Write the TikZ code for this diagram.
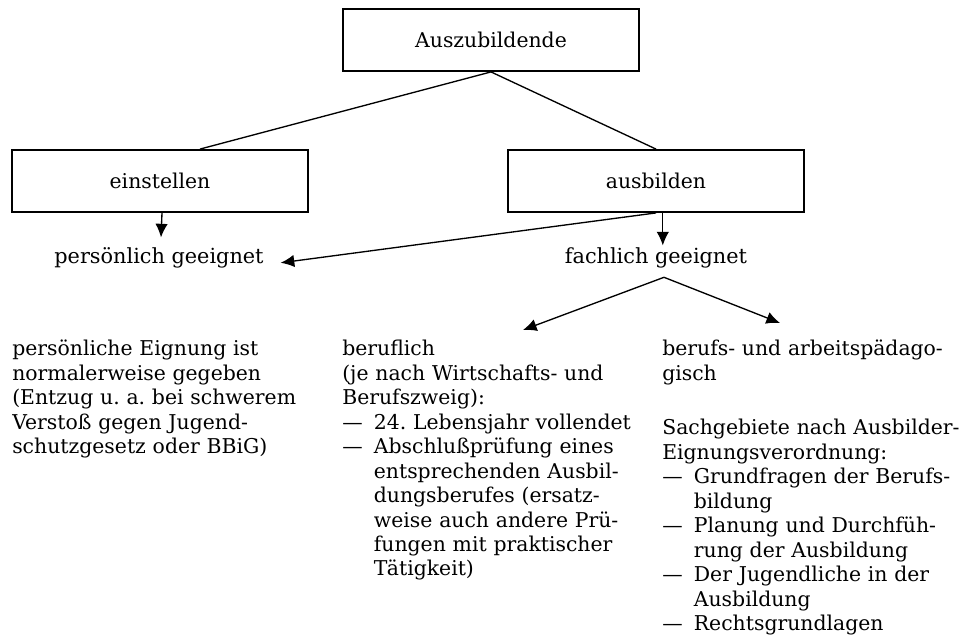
\documentclass[tikz,border=0pt]{standalone}
\usepackage{fontspec}
\setmainfont{DejaVu Serif}
\usetikzlibrary{arrows.meta,calc}
\frenchspacing

% Aufzaehlungspunkt mit Gedankenstrich und haengendem Einzug
\newcommand{\aufz}[1]{\par\hangindent=1.55em\hangafter=1\makebox[1.55em][l]{---}#1\par}

\begin{document}
\begin{tikzpicture}[
			x=0.025cm, y=-0.025cm,
			>={Latex[length=3.4mm,width=3.1mm]},
			kasten/.style={draw, line width=1.3pt, minimum width=7.4cm, minimum height=1.55cm,
				inner sep=0pt, font=\fontsize{14.5}{17}\selectfont},
			merkmal/.style={inner sep=0pt, font=\fontsize{14.8}{17}\selectfont},
			spalte/.style={anchor=north west, inner sep=0pt, text width=9cm, align=left,
				font=\fontsize{14.5}{17.4}\selectfont},
			verbindung/.style={line width=0.95pt}
			]
			\useasboundingbox (0,0) rectangle (968,637);
			
			\node[kasten] (azubi) at (491,40) {Auszubildende};
			\node[kasten] (einst) at (160,181) {einstellen};
			\node[kasten] (ausb) at (656,181) {ausbilden};
			
			\node[merkmal] (pers) at (159,258) {persönlich geeignet};
			\node[merkmal] (fach) at (656,258) {fachlich geeignet};
			
			\draw[verbindung] (azubi.south) -- ([xshift=1cm]einst.north);
			\draw[verbindung] (azubi.south) -- (ausb.north);
			
			\draw[verbindung,->] ([xshift=0.05cm]einst.south) -- ([xshift=0.05cm,yshift=0.25cm]pers.north);
			\draw[verbindung,->] (ausb.south) -- ([xshift=0.42cm,yshift=-0.12cm]pers.east);
			\draw[verbindung,->] ([xshift=0.17cm]ausb.south) -- ([xshift=0.17cm,yshift=0.05cm]fach.north);
			
			\coordinate (beruf) at (523,330);
			\coordinate (paed) at (780,323);
			\draw[verbindung,->] ([xshift=0.2cm,yshift=-0.22cm]fach.south) -- (beruf);
			\draw[verbindung,->] ([xshift=0.2cm,yshift=-0.22cm]fach.south) -- (paed);
			
			\node[spalte] (persText) at (12,340) {%
				persönliche Eignung ist\\
				normalerweise gegeben\\
				(Entzug u.~a. bei schwerem\\
				Verstoß gegen Jugend-\\
				schutzgesetz oder BBiG)};
			
			\node[spalte] (berufText) at (342,340) {%
				beruflich\\
				(je nach Wirtschafts- und\\
				Berufszweig):
				\aufz{24. Lebensjahr vollendet}
				\aufz{Abschlußprüfung eines\newline entsprechenden Ausbil-\newline dungsberufes (ersatz-\newline weise auch andere Prü-\newline fungen mit praktischer\newline Tätigkeit)}};
			
			\node[spalte] (paedText) at (662,340) {%
				berufs- und arbeitspädago-\\
				gisch\\[0.75cm]
				Sachgebiete nach Ausbilder-\\
				Eignungsverordnung:
				\aufz{Grundfragen der Berufs-\newline bildung}
				\aufz{Planung und Durchfüh-\newline rung der Ausbildung}
				\aufz{Der Jugendliche in der\newline Ausbildung}
				\aufz{Rechtsgrundlagen}};
		\end{tikzpicture}
\end{document}
